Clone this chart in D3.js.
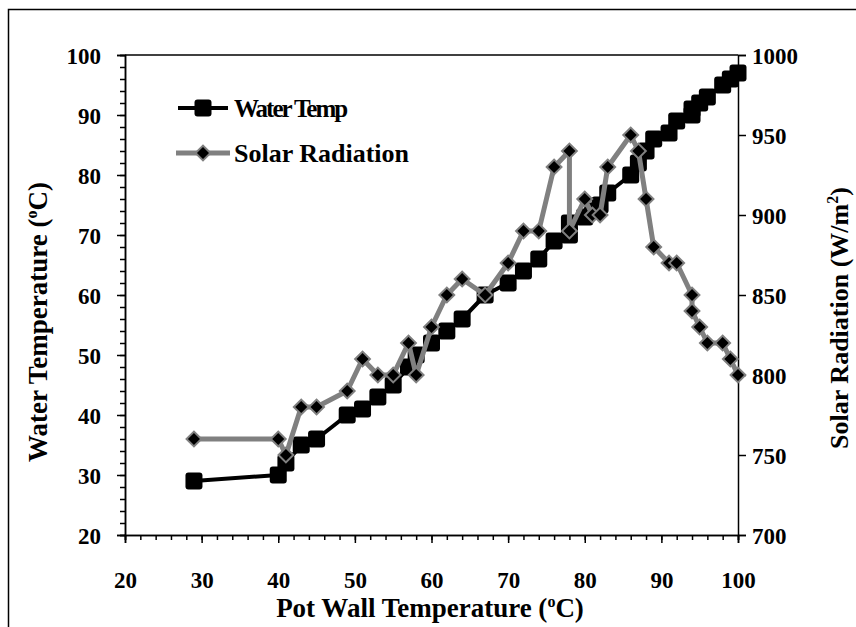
<!DOCTYPE html>
<html>
<head>
<meta charset="utf-8">
<script src="https://cdn.jsdelivr.net/npm/d3@7"></script>
<style>
  html, body { margin: 0; padding: 0; background: #fff; }
  svg { display: block; }
  text { font-family: "Liberation Serif", "Times New Roman", serif; font-weight: bold; fill: #000; }
</style>
</head>
<body>
<svg id="chart" width="856" height="627"></svg>
<script>
// ---- data ----
const potWallTemp = [29, 40, 41, 43, 45, 49, 51, 53, 55, 57, 58, 60, 62, 64, 67, 70, 72, 74, 76, 78, 78, 80, 81, 82, 83, 86, 87, 88, 89, 91, 92, 94, 94, 95, 96, 98, 99, 100];
const waterTemp   = [29, 30, 32, 35, 36, 40, 41, 43, 45, 48, 50, 52, 54, 56, 60, 62, 64, 66, 69, 70, 72, 73, 74, 75, 77, 80, 82, 84, 86, 87, 89, 90, 91, 92, 93, 95, 96, 97];
const solarRad    = [760, 760, 750, 780, 780, 790, 810, 800, 800, 820, 800, 830, 850, 860, 850, 870, 890, 890, 930, 940, 890, 910, 900, 900, 930, 950, 940, 910, 880, 870, 870, 850, 840, 830, 820, 820, 810, 800];
const xTicks = [20, 30, 40, 50, 60, 70, 80, 90, 100];
const yLeftTicks = [20, 30, 40, 50, 60, 70, 80, 90, 100];
const yRightTicks = [700, 750, 800, 850, 900, 950, 1000];
const seriesNames = ["Water Temp", "Solar Radiation"];

const svg = d3.select("#chart");
const L = 125, R = 738, T = 55, B = 535;

const x = d3.scaleLinear().domain([20, 100]).range([L, R]);
const yL = d3.scaleLinear().domain([20, 100]).range([B, T]);
const yR = d3.scaleLinear().domain([700, 1000]).range([B, T]);

const tickFont = 23, titleFont = 27;

// outer frame
svg.append("rect").attr("x", 8.5).attr("y", 9.5).attr("width", 900).attr("height", 700)
  .attr("fill", "none").attr("stroke", "#000").attr("stroke-width", 1.5);

// top frame line
svg.append("line").attr("x1", L).attr("x2", R).attr("y1", T).attr("y2", T)
  .attr("stroke", "#000").attr("stroke-width", 1.5);

const minorX = d3.range(20, 101, 2);
const minorY = d3.range(20, 101, 2);

// bottom axis
const gx = svg.append("g").attr("transform", `translate(0,${B})`);
gx.call(d3.axisBottom(x).tickValues(minorX).tickSize(5).tickFormat(""));
gx.append("g").call(d3.axisBottom(x).tickValues(xTicks).tickSize(8).tickFormat(d3.format("d")));
gx.selectAll("path.domain").attr("stroke-width", 1.5);
gx.selectAll("line").attr("stroke-width", 1.5);
gx.selectAll("text").attr("font-size", tickFont).attr("dy", 0).attr("y", 53)
  .attr("font-family", "Liberation Serif").attr("font-weight", "bold").attr("fill", "#000");

// left axis
const gl = svg.append("g").attr("transform", `translate(${L},0)`);
gl.call(d3.axisLeft(yL).tickValues(minorY).tickSize(5).tickFormat(""));
gl.append("g").call(d3.axisLeft(yL).tickValues(yLeftTicks).tickSize(8).tickFormat(d3.format("d")));
gl.selectAll("path.domain").attr("stroke-width", 1.5);
gl.selectAll("line").attr("stroke-width", 1.5);
gl.selectAll("text").attr("font-size", tickFont).attr("x", -24).attr("dy", "0.35em")
  .attr("font-family", "Liberation Serif").attr("font-weight", "bold").attr("fill", "#000");

// right axis
const gr = svg.append("g").attr("transform", `translate(${R},0)`);
gr.call(d3.axisRight(yR).tickValues(yRightTicks).tickSize(8).tickFormat(d3.format("d")));
gr.selectAll("path.domain").attr("stroke-width", 1.5);
gr.selectAll("line").attr("stroke-width", 1.5);
gr.selectAll("text").attr("font-size", tickFont).attr("x", 14).attr("dy", "0.35em")
  .attr("font-family", "Liberation Serif").attr("font-weight", "bold").attr("fill", "#000");

svg.selectAll(".domain").attr("stroke", "#000");

// axis titles
const xt = svg.append("text").attr("x", 430).attr("y", 617).attr("text-anchor", "middle").attr("font-size", titleFont);
xt.append("tspan").text("Pot Wall Temperature (");
xt.append("tspan").text("o").attr("font-size", 16).attr("dy", -10);
xt.append("tspan").text("C)").attr("dy", 10);

const yt = svg.append("text").attr("transform", `translate(47,322) rotate(-90)`).attr("text-anchor", "middle").attr("font-size", titleFont);
yt.append("tspan").text("Water Temperature (");
yt.append("tspan").text("o").attr("font-size", 16).attr("dy", -10);
yt.append("tspan").text("C)").attr("dy", 10);

const rt = svg.append("text").attr("transform", `translate(848,318) rotate(-90)`).attr("text-anchor", "middle").attr("font-size", 26);
rt.append("tspan").text("Solar Radiation (W/m");
rt.append("tspan").text("2").attr("font-size", 16).attr("dy", -10);
rt.append("tspan").text(")").attr("dy", 10);

// data rows
const rows = potWallTemp.map((p, i) => ({ p, w: waterTemp[i], s: solarRad[i] }));

// water temp series
svg.append("path").datum(rows)
  .attr("fill", "none").attr("stroke", "#000").attr("stroke-width", 4).attr("stroke-linejoin", "round")
  .attr("d", d3.line().x(d => x(d.p)).y(d => yL(d.w)));
const sq = 17;
svg.append("g").selectAll("rect").data(rows).join("rect")
  .attr("x", d => x(d.p) - sq / 2).attr("y", d => yL(d.w) - sq / 2)
  .attr("width", sq).attr("height", sq).attr("rx", 3)
  .attr("fill", "#000");

// solar radiation series
svg.append("path").datum(rows)
  .attr("fill", "none").attr("stroke", "#808080").attr("stroke-width", 5).attr("stroke-linejoin", "round")
  .attr("d", d3.line().x(d => x(d.p)).y(d => yR(d.s)));
const diamond = d3.symbol().type(d3.symbolSquare).size(110);
svg.append("g").selectAll("path").data(rows).join("path")
  .attr("transform", d => `translate(${x(d.p)},${yR(d.s)}) rotate(45)`)
  .attr("d", diamond())
  .attr("fill", "#000").attr("stroke", "#808080").attr("stroke-width", 2);

// legend
const lg = svg.append("g");
const lx1 = 178, lx2 = 228, ly1 = 108, ly2 = 153;
lg.append("line").attr("x1", lx1).attr("x2", lx2).attr("y1", ly1).attr("y2", ly1).attr("stroke", "#000").attr("stroke-width", 4);
lg.append("rect").attr("x", 203 - sq / 2).attr("y", ly1 - sq / 2).attr("width", sq).attr("height", sq).attr("rx", 3).attr("fill", "#000");
lg.append("text").attr("x", 234).attr("y", ly1).attr("dy", "0.35em").attr("font-size", 25).attr("letter-spacing", -2).text(seriesNames[0]);
lg.append("line").attr("x1", lx1 - 2).attr("x2", lx2 + 2).attr("y1", ly2).attr("y2", ly2).attr("stroke", "#808080").attr("stroke-width", 5);
lg.append("path").attr("transform", `translate(203,${ly2}) rotate(45)`).attr("d", diamond())
  .attr("fill", "#000").attr("stroke", "#808080").attr("stroke-width", 2);
lg.append("text").attr("x", 234).attr("y", ly2).attr("dy", "0.35em").attr("font-size", 26).text(seriesNames[1]);
</script>
</body>
</html>
